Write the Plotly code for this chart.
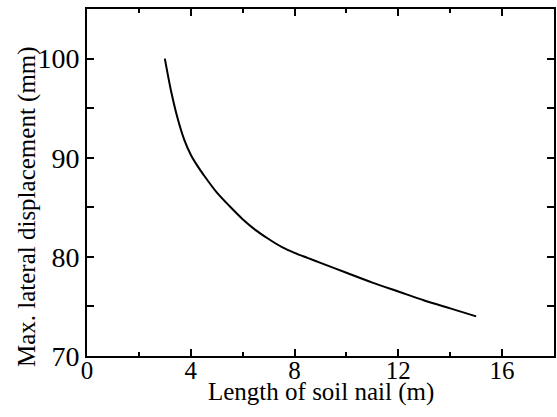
import plotly.graph_objects as go

# Maximum lateral displacement versus soil-nail length
nail_length_m = [3.0, 3.25, 3.5, 3.75, 4.0, 4.25, 4.5, 5.0, 5.5, 6.0, 6.5, 7.0,
                 7.5, 8.0, 8.5, 9.0, 10.0, 11.0, 12.0, 13.0, 14.0, 15.0]
max_disp_mm = [100.0, 96.6, 93.9, 91.8, 90.3, 89.2, 88.25, 86.5, 85.1, 83.8, 82.7, 81.8,
               81.0, 80.4, 79.9, 79.4, 78.4, 77.4, 76.5, 75.6, 74.8, 74.0]

x_ticks = [0, 4, 8, 12, 16]
y_ticks = [70, 80, 90, 100]

FONT = "'Times New Roman', 'Liberation Serif', Times, serif"

fig = go.Figure(
    go.Scatter(
        x=nail_length_m,
        y=max_disp_mm,
        mode="lines",
        line=dict(color="black", width=2, shape="spline", smoothing=0.8),
        showlegend=False,
        hoverinfo="skip",
    )
)

frame = dict(
    showline=True,
    linecolor="black",
    linewidth=2,
    mirror="allticks",
    ticks="inside",
    ticklen=7,
    tickwidth=1.5,
    tickcolor="black",
    showgrid=False,
    zeroline=False,
)

# bottom axis: frame and ticks only; its numbers come from a label axis
fig.update_xaxes(
    range=[0, 18],
    tickvals=x_ticks,
    showticklabels=False,
    minor=dict(ticks="inside", ticklen=4, tickwidth=1.5, tickcolor="black", dtick=2, tick0=0),
    **frame,
)
fig.update_yaxes(
    range=[70, 105],
    tickvals=y_ticks,
    ticktext=[str(v) for v in y_ticks],
    tickfont=dict(family=FONT, size=28, color="black"),
    minor=dict(ticks="inside", ticklen=4, tickwidth=1.5, tickcolor="black", dtick=5, tick0=70),
    **frame,
)

fig.update_layout(
    xaxis2=dict(
        overlaying="x",
        matches="x",
        anchor="free",
        position=0.009,
        side="bottom",
        range=[0, 18],
        tickvals=x_ticks,
        ticktext=[str(v) for v in x_ticks],
        tickfont=dict(family=FONT, size=25, color="black"),
        showline=False,
        ticks="",
        showgrid=False,
        zeroline=False,
    )
)
# invisible carrier so the label axis is drawn
fig.add_trace(
    go.Scatter(x=[x_ticks[0]], y=[y_ticks[0]], xaxis="x2", mode="markers",
               marker=dict(opacity=0), showlegend=False, hoverinfo="skip")
)

title_font = dict(family=FONT, size=25, color="black")
fig.add_annotation(
    text="Length of soil nail (m)", xref="paper", yref="paper",
    x=0.5, y=-0.105, xanchor="center", yanchor="middle",
    showarrow=False, font=title_font,
)
fig.add_annotation(
    text="Max. lateral displacement (mm)", xref="paper", yref="paper",
    x=-0.13, y=0.43, xanchor="center", yanchor="middle", textangle=-90,
    showarrow=False, font=title_font,
)

fig.update_layout(
    width=557,
    height=417,
    margin=dict(l=87, r=1, t=9, b=61),
    paper_bgcolor="white",
    plot_bgcolor="white",
)

fig.write_html("out.html")
